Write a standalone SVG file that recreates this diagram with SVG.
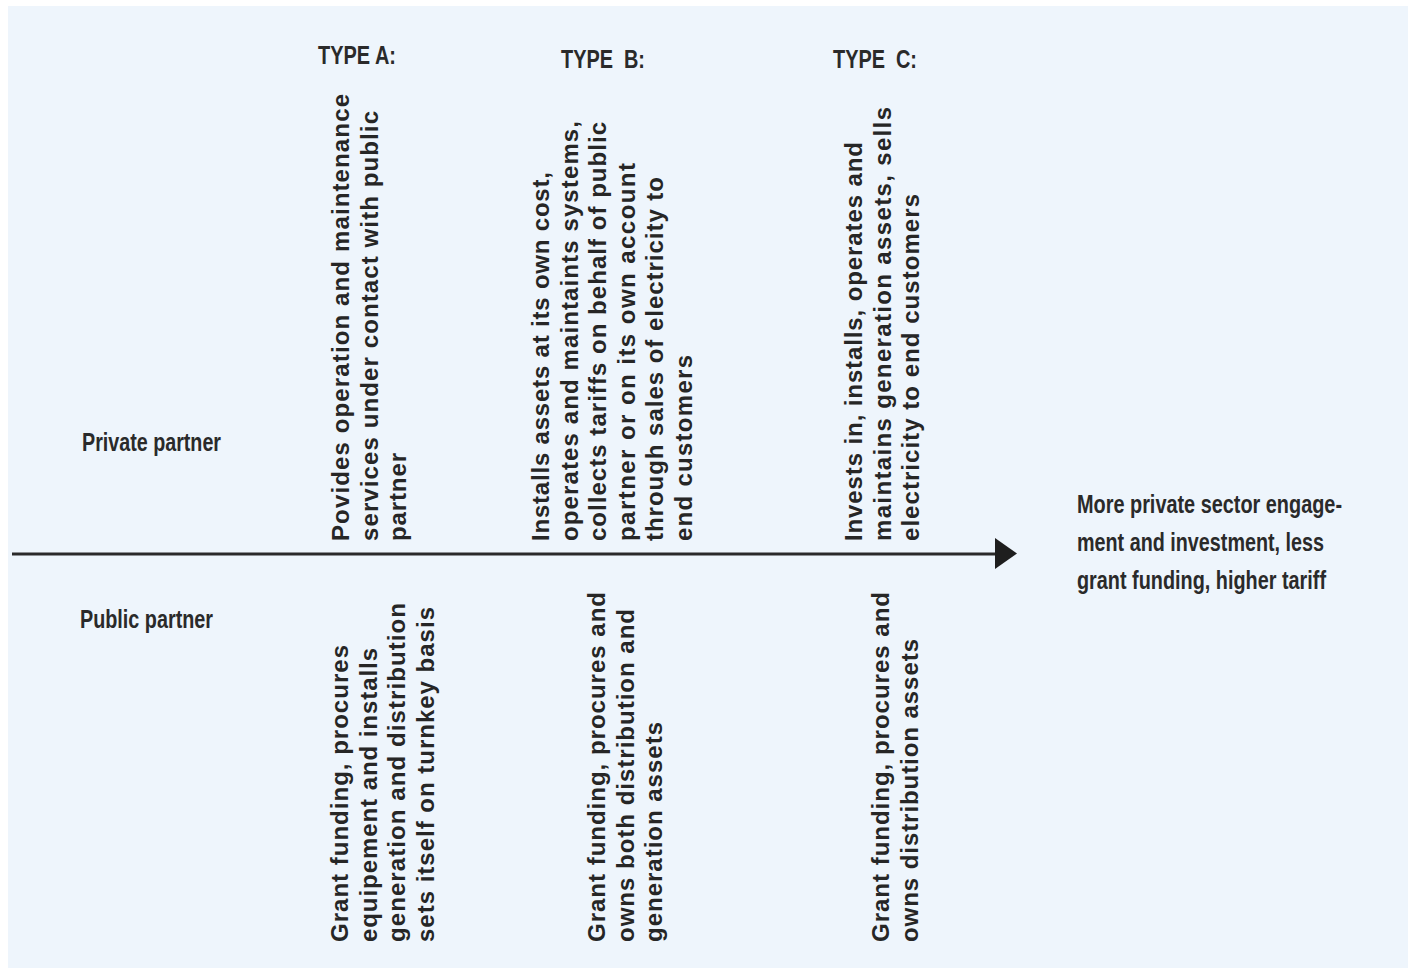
<svg xmlns="http://www.w3.org/2000/svg" width="1410" height="972" viewBox="0 0 1410 972">
<defs>
<style>
.bg{fill:#EEF5FC}
.head{font-family:"Liberation Sans Narrow","Liberation Sans",Arial,sans-serif;font-weight:bold;font-size:25px;fill:#2a2a2a}
.vt{font-family:"Liberation Sans",Arial,sans-serif;font-weight:bold;font-size:24px;fill:#262626}
.axis{stroke:#2a2a2a;stroke-width:3;fill:none}
</style>
<marker id="ah" markerWidth="8" markerHeight="12" refX="1" refY="6" orient="auto" markerUnits="userSpaceOnUse" viewBox="0 0 8 12">
<path d="M0,0 L8,6 L0,12 Z" fill="#1e1e1e"/>
</marker>
</defs>
<rect x="0" y="0" width="1410" height="972" fill="#ffffff"/>
<rect class="bg" x="8" y="6" width="1400" height="962"/>

<g id="connectors">
<line class="axis" x1="12" y1="554" x2="998" y2="554"/>
<path d="M995,538 L1017,553.5 L995,569 Z" fill="#1e1e1e"/>
</g>

<g id="headers">
<text class="head" x="318" y="64" textLength="78" lengthAdjust="spacingAndGlyphs">TYPE A:</text>
<text class="head" x="561" y="68" textLength="84" lengthAdjust="spacingAndGlyphs" xml:space="preserve">TYPE  B:</text>
<text class="head" x="833" y="68" textLength="84" lengthAdjust="spacingAndGlyphs" xml:space="preserve">TYPE  C:</text>
</g>

<g id="row-labels">
<text class="head" x="82" y="451" textLength="139" lengthAdjust="spacingAndGlyphs">Private partner</text>
<text class="head" x="80" y="628" textLength="133" lengthAdjust="spacingAndGlyphs">Public partner</text>
</g>

<g id="outcome">
<text class="head" x="1077" y="513" textLength="265" lengthAdjust="spacingAndGlyphs">More private sector engage-</text>
<text class="head" x="1077" y="551" textLength="247" lengthAdjust="spacingAndGlyphs">ment and investment, less</text>
<text class="head" x="1077" y="589" textLength="249" lengthAdjust="spacingAndGlyphs">grant funding, higher tariff</text>
</g>

<g id="typeA-private">
<text class="vt" transform="translate(349,541) rotate(-90)" textLength="447">Povides operation and maintenance</text>
<text class="vt" transform="translate(377.5,541) rotate(-90)" textLength="430">services under contact with public</text>
<text class="vt" transform="translate(406,541) rotate(-90)" textLength="88">partner</text>
</g>

<g id="typeB-private">
<text class="vt" transform="translate(549,541) rotate(-90)" textLength="369">Installs assets at its own cost,</text>
<text class="vt" transform="translate(577.5,541) rotate(-90)" textLength="420">operates and maintaints systems,</text>
<text class="vt" transform="translate(606,541) rotate(-90)" textLength="419">collects tariffs on behalf of public</text>
<text class="vt" transform="translate(634.5,541) rotate(-90)" textLength="378">partner or on its own account</text>
<text class="vt" transform="translate(663,541) rotate(-90)" textLength="364">through sales of electricity to</text>
<text class="vt" transform="translate(691.5,541) rotate(-90)" textLength="186">end customers</text>
</g>

<g id="typeC-private">
<text class="vt" transform="translate(862,541) rotate(-90)" textLength="399">Invests in, installs, operates and</text>
<text class="vt" transform="translate(890.5,541) rotate(-90)" textLength="434">maintains generation assets, sells</text>
<text class="vt" transform="translate(919,541) rotate(-90)" textLength="347">electricity to end customers</text>
</g>

<g id="typeA-public">
<text class="vt" transform="translate(348,942) rotate(-90)" textLength="297">Grant funding, procures</text>
<text class="vt" transform="translate(376.5,942) rotate(-90)" textLength="294">equipement and installs</text>
<text class="vt" transform="translate(405,942) rotate(-90)" textLength="339">generation and distribution</text>
<text class="vt" transform="translate(433.5,942) rotate(-90)" textLength="335">sets itself on turnkey basis</text>
</g>

<g id="typeB-public">
<text class="vt" transform="translate(605,942) rotate(-90)" textLength="350">Grant funding, procures and</text>
<text class="vt" transform="translate(633.5,942) rotate(-90)" textLength="333">owns both distribution and</text>
<text class="vt" transform="translate(662,942) rotate(-90)" textLength="220">generation assets</text>
</g>

<g id="typeC-public">
<text class="vt" transform="translate(889,942) rotate(-90)" textLength="350">Grant funding, procures and</text>
<text class="vt" transform="translate(917.5,942) rotate(-90)" textLength="303">owns distribution assets</text>
</g>
</svg>
